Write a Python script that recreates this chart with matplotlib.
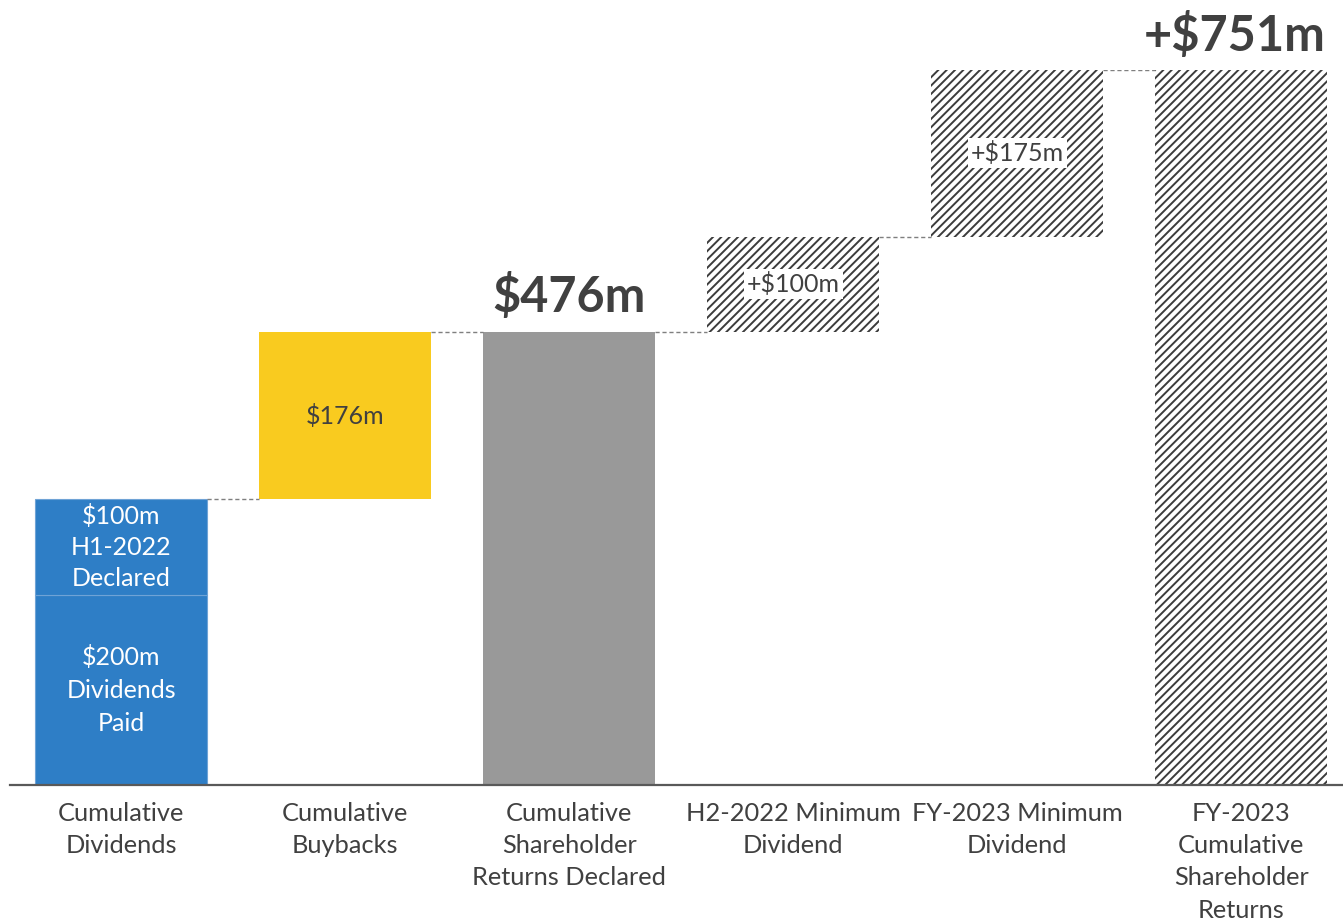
"""
Shareholder returns bridge: cumulative dividends and buybacks declared to date,
plus minimum dividends for H2-2022 and FY-2023.
"""

import matplotlib
matplotlib.use("Agg")
import matplotlib.pyplot as plt

plt.rcParams['font.family'] = ['Lato', 'DejaVu Sans']
plt.rcParams['hatch.linewidth'] = 1.4

BLUE = '#2E7EC6'
YELLOW = '#F9CB1F'
GREY = '#999999'
DARK = '#404040'
HATCH = '#3c3c3c'

categories = [
    "Cumulative\nDividends",
    "Cumulative\nBuybacks",
    "Cumulative\nShareholder\nReturns Declared",
    "H2-2022 Minimum\nDividend",
    "FY-2023 Minimum\nDividend",
    "FY-2023\nCumulative\nShareholder\nReturns",
]

dividends_paid = 200
h1_declared = 100
buybacks = 176
h2_min_dividend = 100
fy23_min_dividend = 175

declared_total = dividends_paid + h1_declared + buybacks
fy23_total = declared_total + h2_min_dividend + fy23_min_dividend

W = 0.77
x = list(range(len(categories)))

fig = plt.figure(figsize=(13.43, 9.23), dpi=100)
ax = fig.add_axes([10 / 1343, 138 / 923, 1333 / 1343, 715 / 923])
ax.set_xlim(-0.496, 5.455)
ax.set_ylim(0, fy23_total)

# solid bars
ax.bar(x[0], dividends_paid, W, color=BLUE, edgecolor='#6fa3d6', linewidth=0.8)
ax.bar(x[0], h1_declared, W, bottom=dividends_paid, color=BLUE,
       edgecolor='#6fa3d6', linewidth=0.8)
ax.bar(x[1], buybacks, W, bottom=dividends_paid + h1_declared, color=YELLOW)
ax.bar(x[2], declared_total, W, color=GREY)

# hatched (future) bars
ax.bar(x[3], h2_min_dividend, W, bottom=declared_total, color='white',
       edgecolor=HATCH, hatch='////', linewidth=0)
ax.bar(x[4], fy23_min_dividend, W, bottom=declared_total + h2_min_dividend,
       color='white', edgecolor=HATCH, hatch='////', linewidth=0)
ax.bar(x[5], fy23_total, W, color='white', edgecolor=HATCH, hatch='////',
       linewidth=0)

# dashed connectors between steps
levels = [dividends_paid + h1_declared, declared_total, declared_total,
          declared_total + h2_min_dividend, fy23_total]
for i, lvl in enumerate(levels):
    ax.plot([x[i] + W / 2, x[i + 1] - W / 2], [lvl, lvl], color='#7f7f7f',
            linestyle=(0, (3, 2)), linewidth=1.0)

# labels inside bars
ax.text(x[0], dividends_paid / 2, f"${dividends_paid}m\nDividends\nPaid",
        ha='center', va='center', color='white', fontsize=18, linespacing=1.52)
ax.text(x[0], dividends_paid + h1_declared / 2,
        f"${h1_declared}m\nH1-2022\nDeclared",
        ha='center', va='center', color='white', fontsize=18, linespacing=1.43)
ax.text(x[1], dividends_paid + h1_declared + buybacks / 2, f"${buybacks}m",
        ha='center', va='center', color=DARK, fontsize=18)

box = dict(boxstyle='square,pad=0.12', facecolor='white', edgecolor='none')
ax.text(x[3], declared_total + h2_min_dividend / 2, f"+${h2_min_dividend}m",
        ha='center', va='center', color=DARK, fontsize=18, bbox=box)
ax.text(x[4], declared_total + h2_min_dividend + fy23_min_dividend / 2,
        f"+${fy23_min_dividend}m", ha='center', va='center', color=DARK,
        fontsize=18, bbox=box)

# totals
ax.text(x[2], declared_total + 12, f"${declared_total}m", ha='center',
        va='bottom', color=DARK, fontsize=35, fontweight='bold')
ax.text(x[5] - 0.03, fy23_total + 12, f"+${fy23_total}m", ha='center',
        va='bottom', color=DARK, fontsize=35, fontweight='bold', clip_on=False)

ax.set_xticks(x)
ax.set_xticklabels(categories, fontsize=18.3, color=DARK, linespacing=1.49)
ax.tick_params(axis='x', length=0, pad=12)
ax.set_yticks([])
for side in ['left', 'right', 'top']:
    ax.spines[side].set_visible(False)
ax.spines['bottom'].set_color('#595959')
ax.spines['bottom'].set_linewidth(1.6)

fig.savefig("out.png", dpi=100, facecolor='white')
